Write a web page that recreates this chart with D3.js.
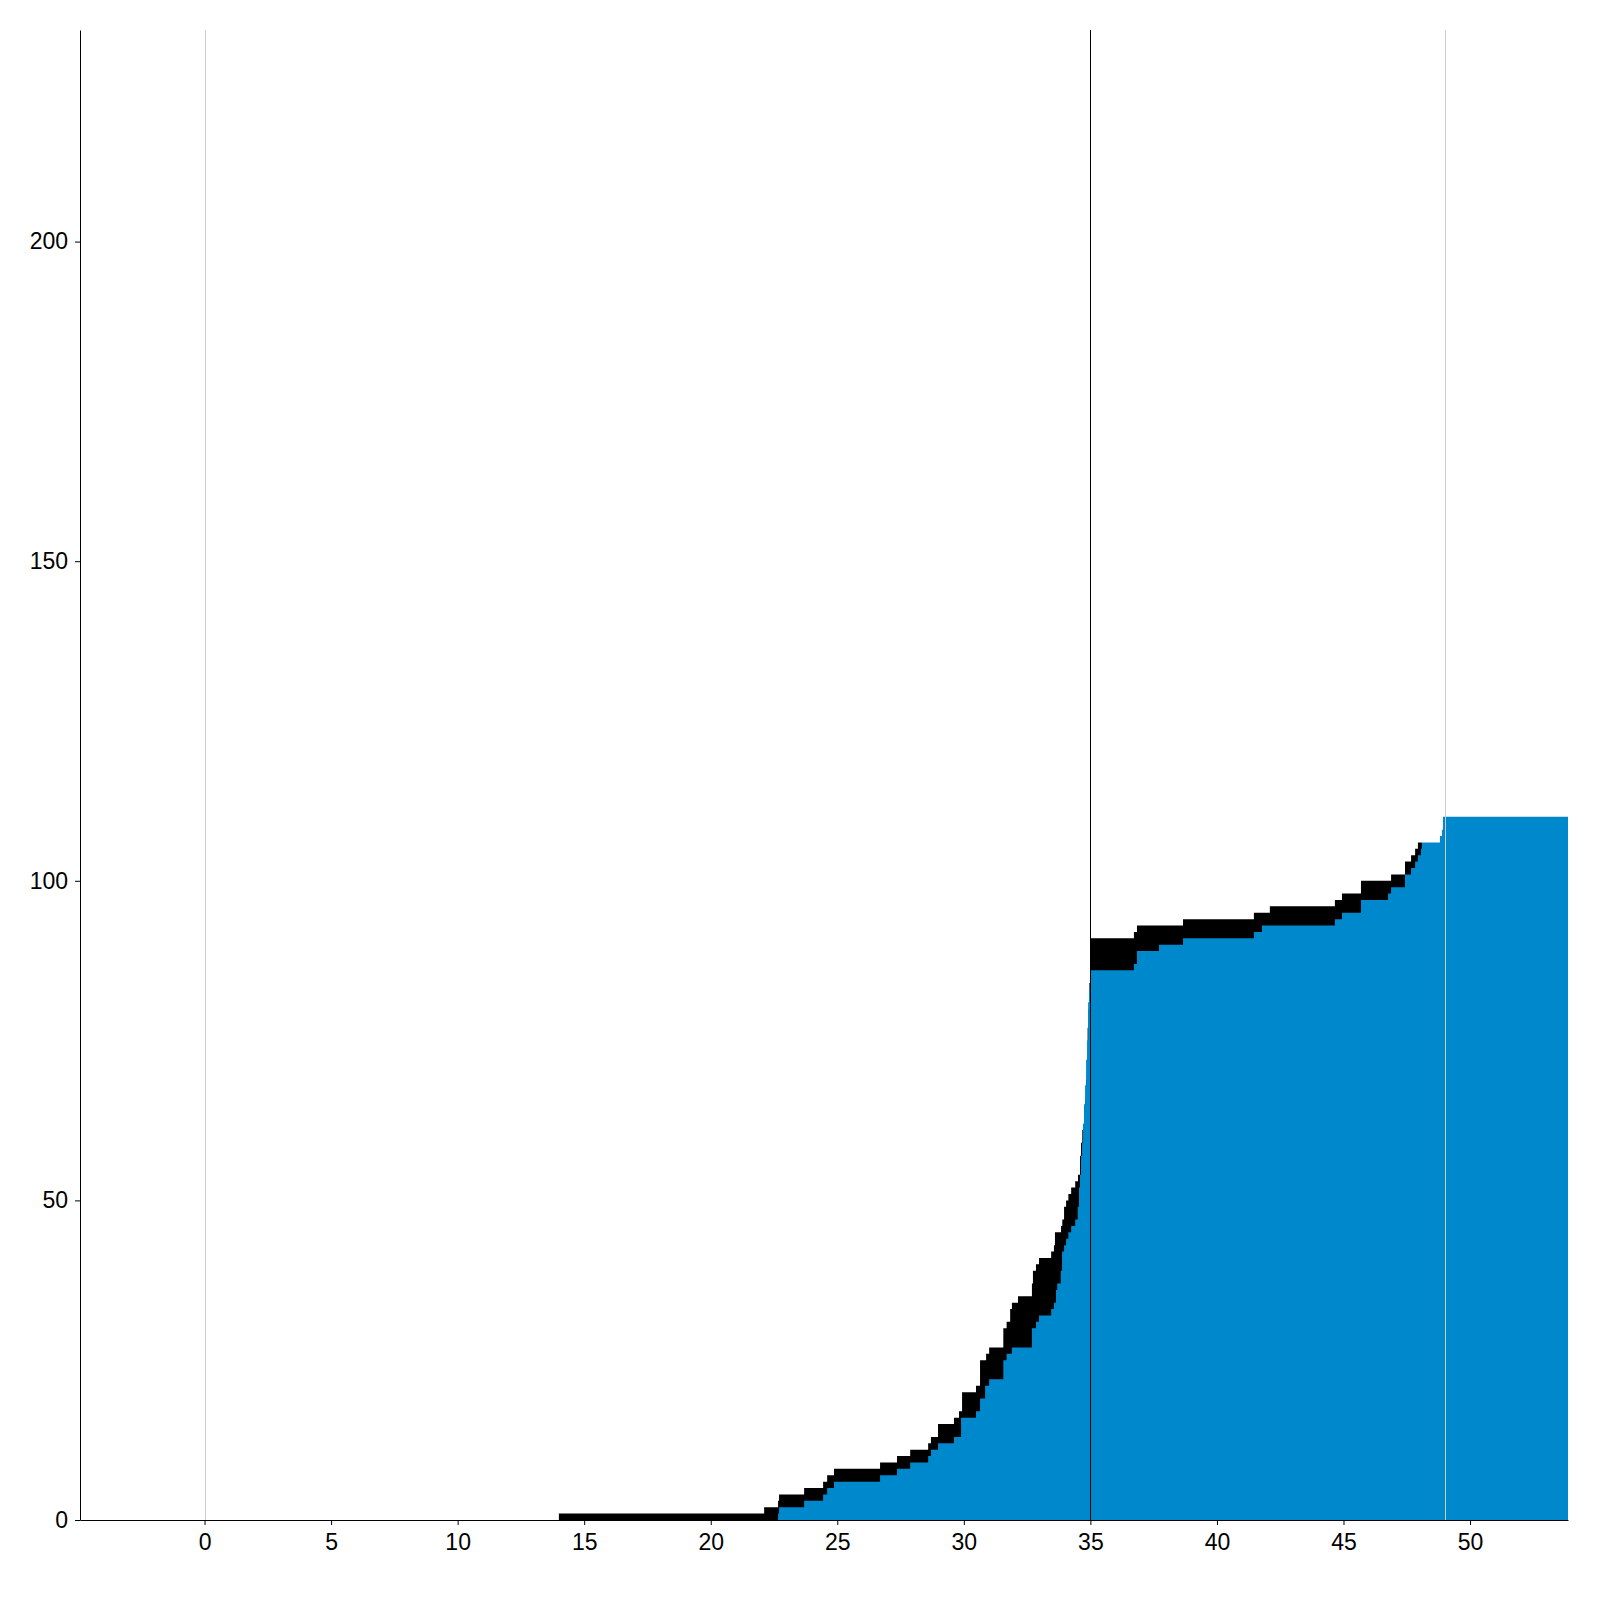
<!DOCTYPE html>
<html>
<head>
<meta charset="utf-8">
<script src="https://cdn.jsdelivr.net/npm/d3@7"></script>
<style>
  body { margin: 0; background: #fff; }
  .axis text { font-family: "Liberation Sans", Arial, sans-serif; font-size: 23px; fill: #000; }
</style>
</head>
<body>
<script>
// Width and height of svg
var w = 1600;
var h = 1600;
var margin = {top: 30, right: 32, bottom: 80, left: 80};

// upper curve (black band top): [day, cumulative]
var upperDays = [14, 22.11, 22.66, 22.70, 23.69, 24.44, 24.60, 24.87, 26.69, 27.36, 27.88, 28.59, 28.70, 28.98,
  29.61, 29.81, 29.93, 30.48, 30.64, 30.88, 31.0, 31.56, 31.69, 31.83, 31.90, 32.14, 32.69, 32.73, 32.85, 32.97,
  33.45, 33.56, 33.60, 33.84, 33.89, 33.96, 34.04, 34.13, 34.24, 34.40, 34.51, 34.59, 34.63, 34.68, 34.72, 34.76,
  34.79, 34.83, 34.87, 34.89, 34.92, 34.96, 35.0, 36.72, 36.84, 38.66, 41.46, 42.09, 44.66, 44.94, 45.69, 46.88,
  47.43, 47.67, 47.83, 47.94, 48.1];
var upperCounts = [1, 2, 3, 4, 5, 6, 7, 8, 9, 10, 11, 12, 13, 15,
  16, 17, 20, 21, 25, 26, 27, 30, 31, 33, 34, 35, 37, 39, 40, 41,
  42, 43, 45, 46, 47, 49, 50, 51, 52, 53, 54, 57, 59, 61, 62, 65,
  66, 69, 72, 77, 80, 84, 91, 92, 93, 94, 95, 96, 97, 98, 100, 101,
  103, 104, 105, 106, 106];

// lower curve (blue)
var lowerDays = [22.66, 22.70, 23.69, 24.44, 24.60, 24.87, 26.69, 27.36, 27.88, 28.59, 28.70, 28.98, 29.61, 29.89,
  30.48, 30.64, 30.84, 31.0, 31.56, 31.69, 31.90, 32.69, 32.85, 32.97, 33.45, 33.56, 33.64, 33.69, 33.83, 33.88,
  33.96, 34.04, 34.13, 34.24, 34.40, 34.50, 34.55, 34.59, 34.63, 34.67, 34.71, 34.75, 34.79, 34.83, 34.87, 34.91,
  34.95, 35.0, 36.72, 36.84, 37.71, 38.66, 41.46, 41.78, 44.66, 44.94, 45.69, 46.76, 46.88, 47.43, 47.67, 47.83,
  47.94, 48.06, 48.1, 48.81, 48.89, 48.93, 53.87];
var lowerCounts = [1, 2, 3, 4, 5, 6, 7, 8, 9, 10, 11, 12, 13, 16,
  17, 19, 21, 22, 25, 26, 27, 30, 31, 32, 33, 34, 36, 37, 39, 42,
  43, 44, 45, 46, 47, 49, 52, 54, 57, 59, 62, 65, 68, 72, 75, 81,
  83, 86, 87, 89, 90, 91, 92, 93, 94, 95, 97, 98, 99, 101, 102, 103,
  104, 105, 106, 107, 108, 110, 110];

var xTicks = [0, 5, 10, 15, 20, 25, 30, 35, 40, 45, 50];
var yTicks = [0, 50, 100, 150, 200];
var markers = [
  {day: 0, color: "#cccccc"},
  {day: 35, color: "#000000"},
  {day: 49, color: "#cccccc"}
];

var svg = d3.select("body")
  .append("svg")
  .attr("width", w)
  .attr("height", h);

var x = d3.scaleLinear()
  .domain([-4.92, 53.87])
  .range([margin.left, w - margin.right]);

var y = d3.scaleLinear()
  .domain([0, 233.1])
  .range([h - margin.bottom, margin.top]);

var upper = upperDays.map(function(d, i) { return [d, upperCounts[i]]; });
var lower = lowerDays.map(function(d, i) { return [d, lowerCounts[i]]; });

var area = d3.area()
  .curve(d3.curveStepAfter)
  .x(function(d) { return x(d[0]); })
  .y0(y(0))
  .y1(function(d) { return y(d[1]); });

// light line at day 0 sits under the data
svg.append("line")
  .attr("x1", Math.round(x(markers[0].day)) + 0.5)
  .attr("x2", Math.round(x(markers[0].day)) + 0.5)
  .attr("y1", y.range()[1])
  .attr("y2", y.range()[0])
  .attr("stroke", markers[0].color)
  .attr("stroke-width", 1);

svg.append("path")
  .datum(upper)
  .attr("fill", "#000")
  .attr("d", area);

svg.append("path")
  .datum(lower)
  .attr("fill", "#0088cc")
  .attr("d", area);

// the other markers on top
svg.selectAll("line.marker")
  .data(markers.slice(1))
  .enter()
  .append("line")
  .attr("class", "marker")
  .attr("x1", function(d) { return Math.round(x(d.day)) + 0.5; })
  .attr("x2", function(d) { return Math.round(x(d.day)) + 0.5; })
  .attr("y1", y.range()[1])
  .attr("y2", y.range()[0])
  .attr("stroke", function(d) { return d.color; })
  .attr("stroke-width", 1);

// axes
svg.append("g")
  .attr("class", "axis")
  .attr("transform", "translate(0," + y(0) + ")")
  .call(d3.axisBottom(x).tickValues(xTicks).tickSize(5).tickSizeOuter(0).tickPadding(9))
  .call(function(g) { g.select(".domain").attr("stroke", "#000"); });

svg.append("g")
  .attr("class", "axis")
  .attr("transform", "translate(" + x.range()[0] + ",0)")
  .call(d3.axisLeft(y).tickValues(yTicks).tickSize(5).tickSizeOuter(0).tickPadding(7))
  .call(function(g) { g.select(".domain").attr("stroke", "#000"); });
</script>
</body>
</html>
